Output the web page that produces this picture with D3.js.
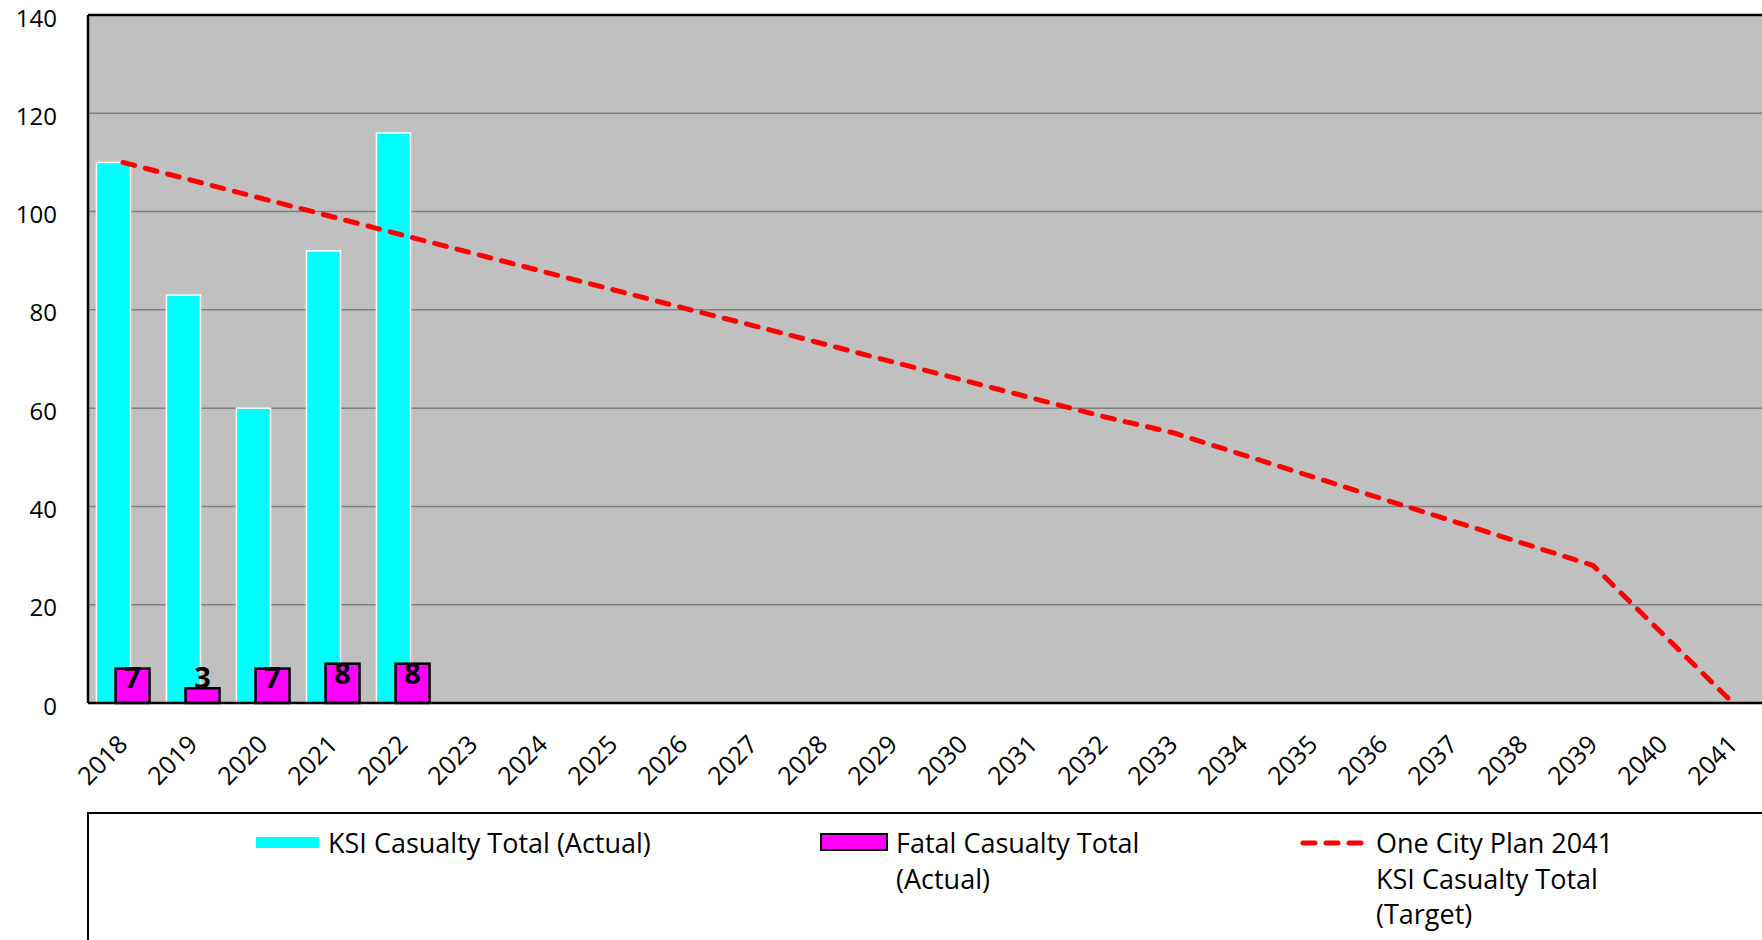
<!DOCTYPE html>
<html>
<head>
<meta charset="utf-8">
<script src="https://cdn.jsdelivr.net/npm/d3@7"></script>
<style>
  html, body { margin: 0; padding: 0; background: #fff; overflow: hidden; }
  text { font-family: "Open Sans", sans-serif; }
</style>
</head>
<body>
<div id="chart"></div>
<script>
// data
const years = ["2018","2019","2020","2021","2022","2023","2024","2025","2026","2027","2028","2029",
  "2030","2031","2032","2033","2034","2035","2036","2037","2038","2039","2040","2041"];
const ksiActual = [110, 83, 60, 92, 116];
const fatalActual = [7, 3, 7, 8, 8];
const ksiTarget = [110, 106.3, 102.6, 98.9, 95.2, 91.5, 87.8, 84.1, 80.4, 76.8, 73.1, 69.4,
  65.7, 62, 58.3, 55, 50.5, 46, 41.5, 37, 32.5, 28, 14, 0];
const yTicks = [0, 20, 40, 60, 80, 100, 120, 140];
const legendItems = [
  { key: "ksi", lines: ["KSI Casualty Total (Actual)"] },
  { key: "fatal", lines: ["Fatal Casualty Total", "(Actual)"] },
  { key: "target", lines: ["One City Plan 2041", "KSI Casualty Total", "(Target)"] }
];

const width = 1762, height = 940;
const plotLeft = 88, plotTop = 15, plotBottom = 703;

const svg = d3.select("#chart").append("svg")
  .attr("width", width)
  .attr("height", height);

const x = d3.scaleBand()
  .domain(years)
  .range([plotLeft, plotLeft + 70 * years.length])
  .padding(0);

const y = d3.scaleLinear()
  .domain([0, 140])
  .range([plotBottom, plotTop]);

const barW = x.bandwidth() * 0.486;
const offset = x.bandwidth() * 0.136;

// plot background
svg.append("rect")
  .attr("x", plotLeft).attr("y", plotTop)
  .attr("width", width - plotLeft + 10).attr("height", plotBottom - plotTop)
  .attr("fill", "#c0c0c0");

// gridlines
svg.append("g")
  .selectAll("line")
  .data(yTicks.filter(d => d > 0 && d < 140))
  .enter().append("line")
  .attr("x1", plotLeft).attr("x2", width + 10)
  .attr("y1", d => y(d)).attr("y2", d => y(d))
  .attr("stroke", "#808080")
  .attr("stroke-width", 1.5);

// y axis labels
const yAxis = svg.append("g")
  .attr("transform", `translate(${plotLeft},0)`)
  .call(d3.axisLeft(y).tickValues(yTicks).tickSize(0).tickPadding(31));
yAxis.select(".domain").remove();
yAxis.selectAll("text")
  .attr("font-size", 24)
  .attr("font-family", "Open Sans, sans-serif")
  .attr("dy", "0.46em")
  .attr("fill", "#000");

// KSI actual bars
svg.append("g")
  .selectAll("rect")
  .data(ksiActual)
  .enter().append("rect")
  .attr("x", (d, i) => x(years[i]) + x.bandwidth() / 2 - offset - barW / 2)
  .attr("y", d => y(d))
  .attr("width", barW)
  .attr("height", d => y(0) - y(d))
  .attr("fill", "#00ffff")
  .attr("stroke", "#ffffff")
  .attr("stroke-width", 1.5);

// fatal bars
svg.append("g")
  .selectAll("rect")
  .data(fatalActual)
  .enter().append("rect")
  .attr("x", (d, i) => x(years[i]) + x.bandwidth() / 2 + offset - barW / 2)
  .attr("y", d => y(d))
  .attr("width", barW)
  .attr("height", d => y(0) - y(d))
  .attr("fill", "#ff00ff")
  .attr("stroke", "#000")
  .attr("stroke-width", 2.5);

// fatal labels
svg.append("g")
  .selectAll("text")
  .data(fatalActual)
  .enter().append("text")
  .attr("x", (d, i) => x(years[i]) + x.bandwidth() / 2 + offset)
  .attr("y", d => Math.min(y(d) + 20, y(0) - 15))
  .attr("text-anchor", "middle")
  .attr("font-size", 29)
  .attr("font-weight", "bold")
  .attr("fill", "#000")
  .text(d => d);

// plot frame
svg.append("line")
  .attr("x1", plotLeft).attr("x2", width + 10)
  .attr("y1", plotTop).attr("y2", plotTop)
  .attr("stroke", "#000").attr("stroke-width", 2.5);
svg.append("line")
  .attr("x1", plotLeft).attr("x2", plotLeft)
  .attr("y1", plotTop).attr("y2", plotBottom)
  .attr("stroke", "#000").attr("stroke-width", 2.5);
svg.append("line")
  .attr("x1", plotLeft).attr("x2", width + 10)
  .attr("y1", plotBottom).attr("y2", plotBottom)
  .attr("stroke", "#000").attr("stroke-width", 2.5);

// target line
const line = d3.line()
  .x((d, i) => x(years[i]) + x.bandwidth() / 2)
  .y(d => y(d));

svg.append("path")
  .datum(ksiTarget)
  .attr("d", line)
  .attr("fill", "none")
  .attr("stroke", "#ff0000")
  .attr("stroke-width", 5)
  .attr("stroke-linecap", "round")
  .attr("stroke-linejoin", "round")
  .attr("stroke-dasharray", "12 11");

// x axis labels
svg.append("g")
  .selectAll("text")
  .data(years)
  .enter().append("text")
  .attr("transform", d => `translate(${x(d) + x.bandwidth() / 2 + 6},${plotBottom + 43}) rotate(-45)`)
  .attr("text-anchor", "end")
  .attr("font-size", 25)
  .attr("fill", "#000")
  .text(d => d);

// legend
const legend = svg.append("g");
legend.append("rect")
  .attr("x", plotLeft).attr("y", 813)
  .attr("width", width).attr("height", 200)
  .attr("fill", "#fff")
  .attr("stroke", "#000")
  .attr("stroke-width", 2);

const legendX = [256, 821, 1300];
const item = legend.selectAll("g.item")
  .data(legendItems)
  .enter().append("g")
  .attr("class", "item")
  .attr("transform", (d, i) => `translate(${legendX[i]},0)`);

item.filter(d => d.key === "ksi").append("rect")
  .attr("x", 0).attr("y", 837).attr("width", 63).attr("height", 11)
  .attr("fill", "#00ffff");
item.filter(d => d.key === "fatal").append("rect")
  .attr("x", 0).attr("y", 834).attr("width", 66).attr("height", 16)
  .attr("fill", "#ff00ff").attr("stroke", "#000").attr("stroke-width", 2);
item.filter(d => d.key === "target").append("line")
  .attr("x1", 3).attr("x2", 62).attr("y1", 843).attr("y2", 843)
  .attr("stroke", "#ff0000").attr("stroke-width", 5)
  .attr("stroke-linecap", "round").attr("stroke-dasharray", "12 11");

item.each(function(d) {
  const g = d3.select(this);
  const tx = d.key === "fatal" ? 75 : d.key === "target" ? 76 : 72;
  g.selectAll("text")
    .data(d.lines)
    .enter().append("text")
    .attr("x", tx)
    .attr("y", (t, j) => 853 + j * 35.5)
    .attr("font-size", 27)
    .attr("fill", "#000")
    .text(t => t);
});
</script>
</body>
</html>
